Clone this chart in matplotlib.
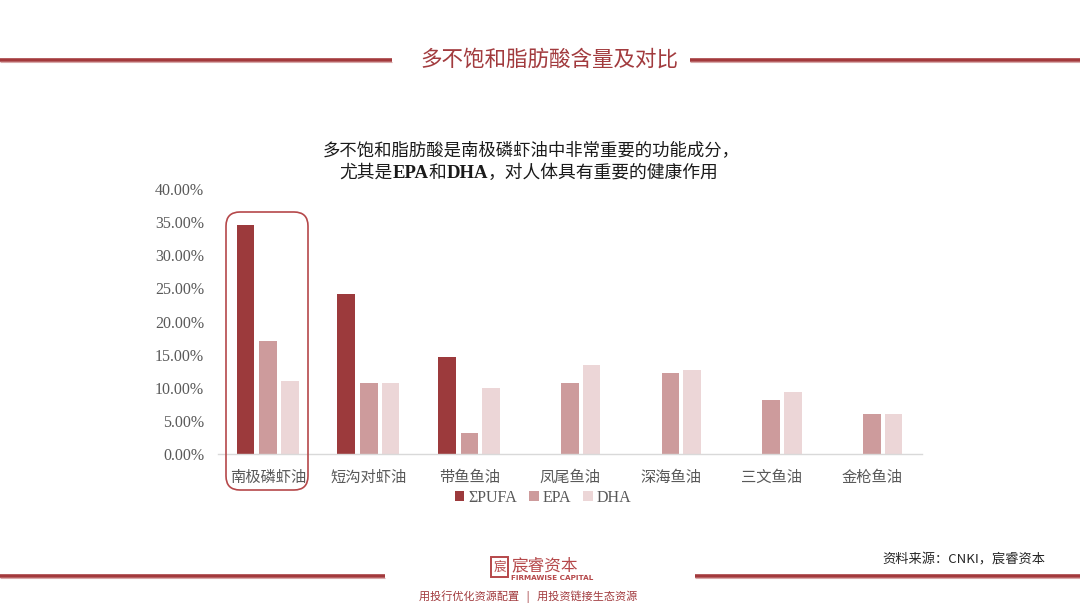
import matplotlib
matplotlib.use("Agg")
import matplotlib.pyplot as plt
import numpy as np
from matplotlib.patches import FancyBboxPatch, Rectangle
from matplotlib.transforms import IdentityTransform

categories = ["南极磷虾油", "短沟对虾油", "带鱼鱼油", "凤尾鱼油", "深海鱼油", "三文鱼油", "金枪鱼油"]
pufa = [34.5, 24.1, 14.7, np.nan, np.nan, np.nan, np.nan]
epa = [17.1, 10.7, 3.1, 10.7, 12.3, 8.2, 6.1]
dha = [11.0, 10.7, 10.0, 13.5, 12.7, 9.4, 6.1]
yticks = [0, 5, 10, 15, 20, 25, 30, 35, 40]
series_names = ["ΣPUFA", "EPA", "DHA"]

W, H = 1080, 608
DPI = 100
CJK = ["Noto Sans CJK SC", "DejaVu Sans"]
SERIF = ["Liberation Serif", "DejaVu Serif"]
RED = "#A23B3E"
C_PUFA = "#9C3A3C"
C_EPA = "#CD9B9C"
C_DHA = "#ECD6D7"
GRAY = "#595959"

fig = plt.figure(figsize=(W / DPI, H / DPI), dpi=DPI)
fig.patch.set_facecolor("white")


def fx(x):
    return x / W


def fy(y):
    return 1 - y / H


# axes: x 218..922, y 189 (40%) .. 454 (0%)
ax = fig.add_axes([fx(218), fy(454), (922 - 218) / W, (454 - 189) / H])
x = np.arange(len(categories))
bw = 0.175
ax.bar(x - 0.225, pufa, bw, color=C_PUFA, label=series_names[0])
ax.bar(x, epa, bw, color=C_EPA, label=series_names[1])
ax.bar(x + 0.215, dha, bw, color=C_DHA, label=series_names[2])
ax.set_xlim(-0.5, len(categories) - 0.5)
ax.set_ylim(0, 40)
ax.set_yticks(yticks)
ax.set_yticklabels([f"{v:.2f}%" for v in yticks], fontfamily=SERIF, fontsize=11.5, color=GRAY)
ax.set_xticks(x)
ax.set_xticklabels(categories, fontfamily=CJK, fontsize=11, color=GRAY)
ax.tick_params(axis="y", length=0, pad=10)
ax.tick_params(axis="x", length=0, pad=11)
for s in ["top", "right", "left"]:
    ax.spines[s].set_visible(False)
ax.spines["bottom"].set_color("#D9D9D9")
ax.spines["bottom"].set_linewidth(1)
ax.set_facecolor("none")

leg = ax.legend(loc="center", bbox_to_anchor=(fx(543), fy(497.5)), bbox_transform=fig.transFigure,
                ncol=3, frameon=False, prop={"family": SERIF, "size": 11.5},
                handlelength=0.6, handleheight=0.6, handletextpad=0.25, columnspacing=0.75,
                borderpad=0)
for t in leg.get_texts():
    t.set_color(GRAY)

# highlight rounded box (pixel coords, origin bottom-left)
box = FancyBboxPatch((226, H - 490), 308 - 226, 490 - 212,
                     boxstyle="round,pad=0,rounding_size=14",
                     transform=IdentityTransform(), fill=False,
                     edgecolor="#B5484A", linewidth=1.2, clip_on=False)
fig.patches.append(box)

# header
fig.text(fx(549), fy(60), "多不饱和脂肪酸含量及对比", ha="center", va="center",
         fontfamily=CJK, fontsize=15.5, color=RED)
for x0, x1 in [(0, 392), (690, 1080)]:
    fig.add_artist(plt.Line2D([fx(x0), fx(x1)], [fy(60), fy(60)], transform=fig.transFigure,
                              color="#A3393C", linewidth=2.6, solid_capstyle="butt"))
    fig.add_artist(plt.Line2D([fx(x0), fx(x1)], [fy(61.8), fy(61.8)], transform=fig.transFigure,
                              color="#D9A9AA", linewidth=0.8, solid_capstyle="butt"))

# subtitle
fig.text(fx(531), fy(150), "多不饱和脂肪酸是南极磷虾油中非常重要的功能成分，", ha="center", va="center",
         fontfamily=CJK, fontsize=12.5, color="#1a1a1a")
pieces = [("尤其是", "normal"), ("EPA", "bold"), ("和", "normal"), ("DHA", "bold"),
          ("，对人体具有重要的健康作用", "normal")]
fig.canvas.draw()
renderer = fig.canvas.get_renderer()
objs = []
total = 0
for s, wgt in pieces:
    fam = SERIF if wgt == "bold" else CJK
    t = fig.text(0, fy(173), s, ha="left", va="center", fontfamily=fam,
                 fontsize=13.5 if wgt == "bold" else 12.8, fontweight=wgt, color="#1a1a1a")
    w = t.get_window_extent(renderer).width
    objs.append((t, w))
    total += w
cur = 529 - total / 2
for t, w in objs:
    t.set_x(fx(cur))
    cur += w

# footer
for x0, x1 in [(0, 385), (695, 1080)]:
    fig.add_artist(plt.Line2D([fx(x0), fx(x1)], [fy(576), fy(576)], transform=fig.transFigure,
                              color="#A3393C", linewidth=2.6, solid_capstyle="butt"))
    fig.add_artist(plt.Line2D([fx(x0), fx(x1)], [fy(577.8), fy(577.8)], transform=fig.transFigure,
                              color="#D9A9AA", linewidth=0.8, solid_capstyle="butt"))

fig.text(fx(1045), fy(560), "资料来源：CNKI，宸睿资本", ha="right", va="center",
         fontfamily=CJK, fontsize=9.5, color="#262626", style="italic")

# logo
fig.patches.append(Rectangle((491, H - 577), 17, 20, transform=IdentityTransform(), fill=False,
                             edgecolor="#B5484A", linewidth=1.4))
fig.text(fx(499.5), fy(567), "宸", ha="center", va="center", fontfamily=CJK, fontsize=9, color="#B5484A")
fig.text(fx(511), fy(566), "宸睿资本", ha="left", va="center", fontfamily=CJK, fontsize=12,
         color="#B5484A")
fig.text(fx(511), fy(578.5), "FIRMAWISE CAPITAL", ha="left", va="center", fontfamily=["DejaVu Sans"],
         fontsize=5.2, color="#B5484A", fontweight="bold")
fig.text(fx(528), fy(597), "用投行优化资源配置   |   用投资链接生态资源", ha="center", va="center",
         fontfamily=CJK, fontsize=8, color=RED)

fig.savefig("out.png", dpi=DPI, facecolor="white")
